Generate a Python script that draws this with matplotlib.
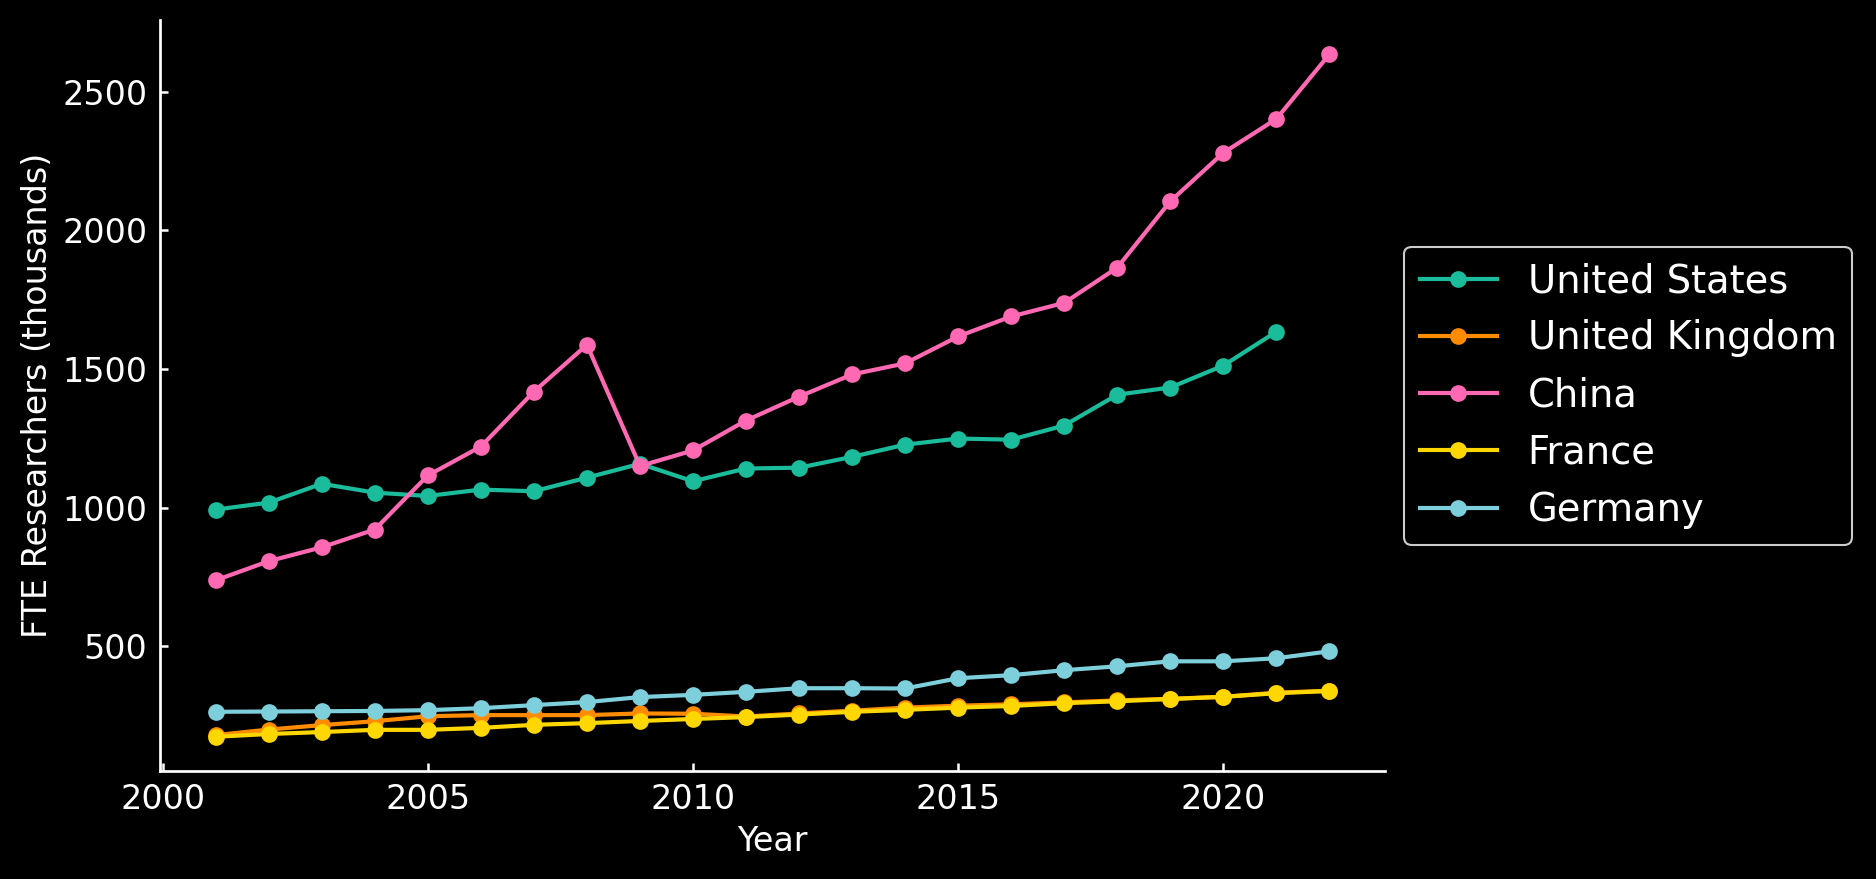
import matplotlib
matplotlib.use('Agg')
import matplotlib.pyplot as plt

years = list(range(2001, 2023))

# FTE researchers, thousands
us = [993, 1018, 1086, 1054, 1042, 1065, 1059, 1108, 1158, 1095, 1141,
      1144, 1183, 1227, 1249, 1245, 1296, 1407, 1433, 1512, 1634]
uk = [180, 200, 216, 230, 248, 252, 252, 252, 258, 257, 247,
      258, 268, 279, 286, 291, 298, 305, 311, 318, 333, 340]
china = [738, 807, 857, 921, 1116, 1220, 1418, 1587, 1150, 1206, 1314,
         1400, 1480, 1520, 1617, 1689, 1738, 1865, 2104, 2279, 2401, 2634]
france = [174, 184, 191, 199, 199, 206, 217, 223, 231, 238, 245,
          254, 264, 271, 279, 285, 295, 302, 310, 318, 331, 339]
germany = [264, 265, 266, 267, 270, 277, 288, 299, 317, 325, 336,
           349, 349, 348, 385, 396, 414, 428, 446, 446, 457, 482]

series = [
    ('United States', us, '#1abc9c'),
    ('United Kingdom', uk, '#ff8c00'),
    ('China', china, '#ff69b4'),
    ('France', france, '#ffd700'),
    ('Germany', germany, '#7ecfdc'),
]

fig = plt.figure(figsize=(1876 / 150, 879 / 150), dpi=150, facecolor='black')
ax = fig.add_axes([0.0853, 0.123, 0.6530, 0.854])
ax.set_facecolor('black')

for name, vals, color in series:
    ax.plot(years[:len(vals)], vals, marker='o', markersize=7, linewidth=2,
            color=color, label=name)

ax.set_xlabel('Year', color='white', fontsize=16)
ax.set_ylabel('FTE Researchers (thousands)', color='white', fontsize=16)
ax.set_xticks([2000, 2005, 2010, 2015, 2020])
ax.set_yticks([500, 1000, 1500, 2000, 2500])

ax.tick_params(colors='white', labelsize=16, direction='in', length=4,
               width=1.2, pad=6)
for side in ['top', 'right']:
    ax.spines[side].set_visible(False)
for side in ['left', 'bottom']:
    ax.spines[side].set_color('white')
    ax.spines[side].set_linewidth(1.3)

leg = ax.legend(loc='center left', bbox_to_anchor=(1.0, 0.5), fontsize=18.5,
                facecolor='black', edgecolor='#cccccc', framealpha=1)
for t in leg.get_texts():
    t.set_color('white')

fig.savefig('out.png', dpi=150, facecolor='black')
